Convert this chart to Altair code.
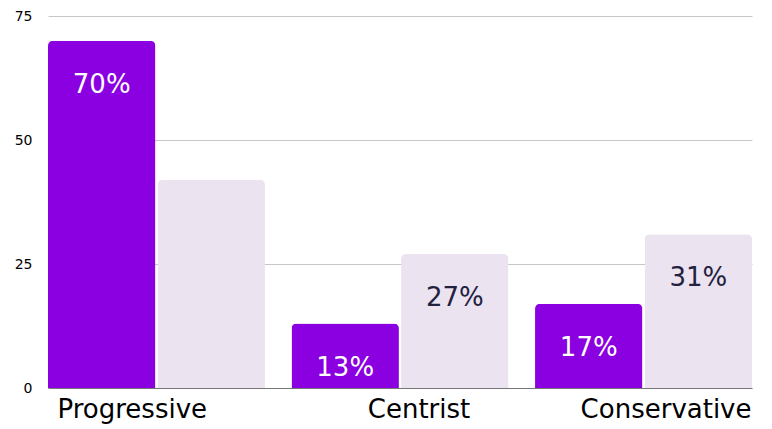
import altair as alt
import pandas as pd

categories = ["Progressive", "Centrist", "Conservative"]
series = ["Group A", "Group B"]
values_a = [70, 13, 17]
values_b = [42, 27, 31]
labels_a = ["70%", "13%", "17%"]
labels_b = ["", "27%", "31%"]

rows = []
for c, va, vb, la, lb in zip(categories, values_a, values_b, labels_a, labels_b):
    rows.append({"cat": c, "series": series[0], "value": va, "label": la})
    rows.append({"cat": c, "series": series[1], "value": vb, "label": lb})
df = pd.DataFrame(rows)

PURPLE = "#8a00e0"
LIGHT = "#ece3f1"

x = alt.X(
    "cat:N",
    sort=categories,
    title=None,
    scale=alt.Scale(paddingInner=0.109, paddingOuter=0),
    axis=alt.Axis(
        labelAngle=0,
        labelFont="DejaVu Sans",
        labelFontSize=26,
        labelColor="#000000",
        labelPadding=8,
        ticks=False,
        domain=True,
        domainColor="#777777",
        domainWidth=1,
        grid=False,
        labelAlign=alt.ExprRef(
            "datum.value == 'Progressive' ? 'left' : datum.value == 'Conservative' ? 'right' : 'center'"
        ),
        labelOffset=alt.ExprRef(
            "datum.value == 'Progressive' ? -99 : datum.value == 'Conservative' ? 108 : 19"
        ),
    ),
)
xo = alt.XOffset("series:N", sort=series, scale=alt.Scale(paddingInner=0.02))
y = alt.Y(
    "value:Q",
    title=None,
    scale=alt.Scale(domain=[0, 75], nice=False),
    axis=alt.Axis(
        values=[0, 25, 50, 75],
        ticks=False,
        domain=False,
        labelFont="DejaVu Sans",
        labelFontSize=14,
        labelColor="#000000",
        labelPadding=16,
        gridColor="#c6c6c6",
        gridWidth=1,
    ),
)
color = alt.Color(
    "series:N",
    sort=series,
    scale=alt.Scale(domain=series, range=[PURPLE, LIGHT]),
    legend=None,
)

bars = alt.Chart(df).mark_bar(cornerRadiusTopLeft=5, cornerRadiusTopRight=5).encode(
    x=x, xOffset=xo, y=y, color=color
)

text = alt.Chart(df).mark_text(
    baseline="middle", align="center", dy=44, font="DejaVu Sans", fontSize=26
).encode(
    x=x,
    xOffset=xo,
    y=y,
    text="label:N",
    color=alt.Color(
        "series:N",
        sort=series,
        scale=alt.Scale(domain=series, range=["#ffffff", "#22223f"]),
        legend=None,
    ),
)

chart = (
    alt.layer(bars, text)
    .resolve_scale(color="independent")
    .properties(
        width=704,
        height=372,
        autosize=alt.AutoSizeParams(type="none"),
        padding={"left": 40, "top": 8, "right": 4, "bottom": 40},
    )
    .configure_view(stroke=None)
)

chart.save("out.html", embed_options={"renderer": "svg", "actions": False})
